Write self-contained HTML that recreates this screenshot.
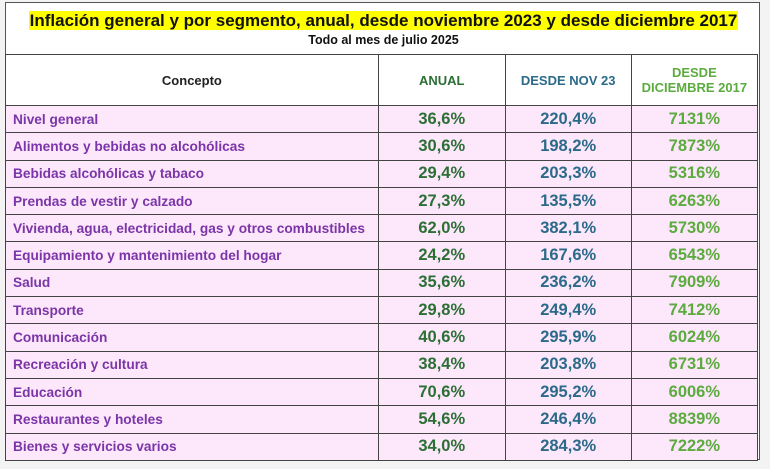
<!DOCTYPE html>
<html><head><meta charset="utf-8"><style>
body{margin:0;width:770px;height:469px;background:#f3f3f3;font-family:"Liberation Sans",Arial,sans-serif;overflow:hidden}
#w{position:absolute;left:5px;top:2px;width:755px;height:458px;background:#fff;border:1px solid #555;box-sizing:border-box}
.t{position:absolute;top:8px;left:0;width:755px;text-align:center}
.t span{background:#ffff00;font-weight:bold;font-size:17px;color:#111;padding:0 1px}
.s{position:absolute;top:30px;left:0;width:755px;text-align:center;font-weight:bold;font-size:12.5px;color:#111}
table{position:absolute;left:-1px;top:51px;border-collapse:collapse;table-layout:fixed}
td{border:1px solid #444;padding:0;font-weight:bold}
th{border:1px solid #444;height:48px;font-size:13px;font-weight:bold}
tr.r td{height:26.3px;background:#fde7fb}
td.c{color:#7a35a8;font-size:13.7px;padding-left:7px;white-space:nowrap}
td.a,td.n,td.d{text-align:center;font-size:16.5px}
.a{color:#2c6f35}.n{color:#2b6a88}.d{color:#5cab3f}
</style></head><body><div id="w">
<div class="t"><span>Inflación general y por segmento, anual, desde noviembre 2023 y desde diciembre 2017</span></div>
<div class="s">Todo al mes de julio 2025</div>
<table>
<colgroup><col style="width:373px"><col style="width:128px"><col style="width:127px"><col style="width:127px"></colgroup>
<tr><th style="color:#222">Concepto</th><th class="a">ANUAL</th><th class="n">DESDE NOV 23</th><th class="d">DESDE<br>DICIEMBRE 2017</th></tr>
<tr class="r"><td class="c">Nivel general</td><td class="a">36,6%</td><td class="n">220,4%</td><td class="d">7131%</td></tr>
<tr class="r"><td class="c">Alimentos y bebidas no alcohólicas</td><td class="a">30,6%</td><td class="n">198,2%</td><td class="d">7873%</td></tr>
<tr class="r"><td class="c">Bebidas alcohólicas y tabaco</td><td class="a">29,4%</td><td class="n">203,3%</td><td class="d">5316%</td></tr>
<tr class="r"><td class="c">Prendas de vestir y calzado</td><td class="a">27,3%</td><td class="n">135,5%</td><td class="d">6263%</td></tr>
<tr class="r"><td class="c">Vivienda, agua, electricidad, gas y otros combustibles</td><td class="a">62,0%</td><td class="n">382,1%</td><td class="d">5730%</td></tr>
<tr class="r"><td class="c">Equipamiento y mantenimiento del hogar</td><td class="a">24,2%</td><td class="n">167,6%</td><td class="d">6543%</td></tr>
<tr class="r"><td class="c">Salud</td><td class="a">35,6%</td><td class="n">236,2%</td><td class="d">7909%</td></tr>
<tr class="r"><td class="c">Transporte</td><td class="a">29,8%</td><td class="n">249,4%</td><td class="d">7412%</td></tr>
<tr class="r"><td class="c">Comunicación</td><td class="a">40,6%</td><td class="n">295,9%</td><td class="d">6024%</td></tr>
<tr class="r"><td class="c">Recreación y cultura</td><td class="a">38,4%</td><td class="n">203,8%</td><td class="d">6731%</td></tr>
<tr class="r"><td class="c">Educación</td><td class="a">70,6%</td><td class="n">295,2%</td><td class="d">6006%</td></tr>
<tr class="r"><td class="c">Restaurantes y hoteles</td><td class="a">54,6%</td><td class="n">246,4%</td><td class="d">8839%</td></tr>
<tr class="r"><td class="c">Bienes y servicios varios</td><td class="a">34,0%</td><td class="n">284,3%</td><td class="d">7222%</td></tr>
</table></div></body></html>
